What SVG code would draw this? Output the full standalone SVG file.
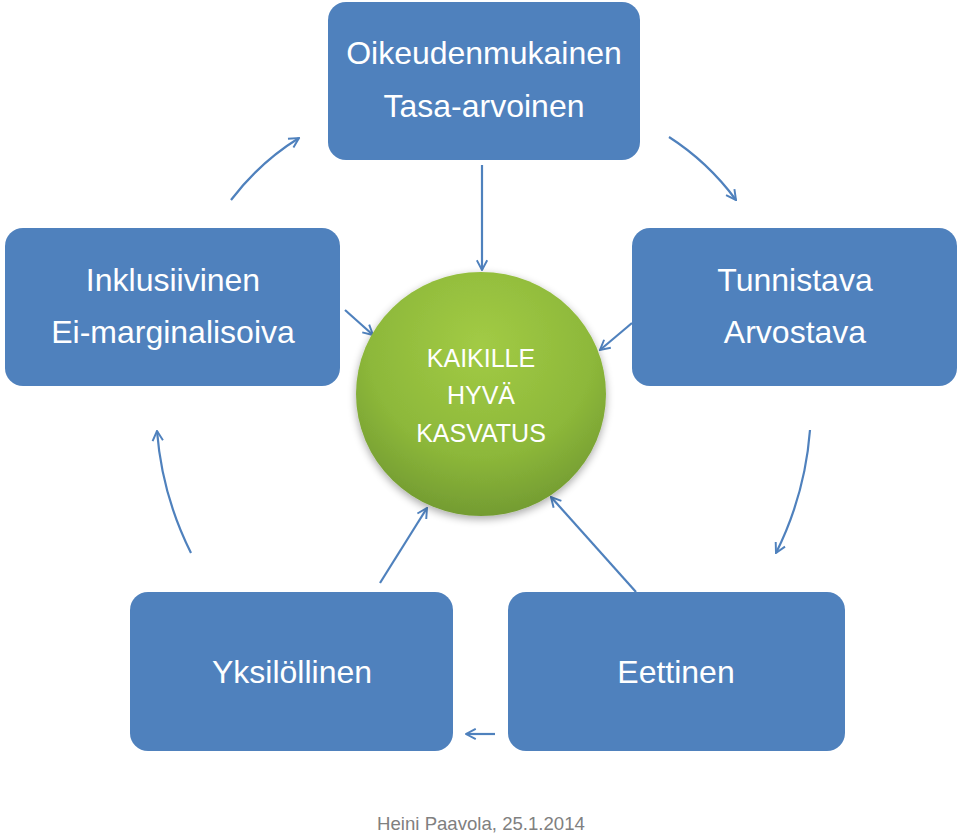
<svg xmlns="http://www.w3.org/2000/svg" width="960" height="834" viewBox="0 0 960 834">
<style>
.box{fill:#4F81BD;}
.t{font-family:"Liberation Sans",Arial,sans-serif;font-size:32px;fill:#ffffff;text-anchor:middle;}
.c{font-family:"Liberation Sans",Arial,sans-serif;font-size:25px;fill:#ffffff;text-anchor:middle;}
.conn{fill:none;stroke:#4F81BD;stroke-width:2.2;marker-end:url(#ah);}
.foot{font-family:"Liberation Sans",Arial,sans-serif;font-size:18.6px;fill:#808080;text-anchor:middle;}
</style>
<defs>
<marker id="ah" viewBox="0 0 10 10" refX="9" refY="5" markerWidth="13" markerHeight="13" markerUnits="userSpaceOnUse" orient="auto">
<path d="M1.5,1 L9,5 L1.5,9" fill="none" stroke="#4F81BD" stroke-width="1.5"/>
</marker>
<radialGradient id="g" cx="0.5" cy="0.3" r="0.75">
<stop offset="0" stop-color="#A2CB45"/>
<stop offset="0.6" stop-color="#8DB83A"/>
<stop offset="1" stop-color="#6E9630"/>
</radialGradient>
<filter id="sh" x="-20%" y="-20%" width="140%" height="140%">
<feGaussianBlur in="SourceAlpha" stdDeviation="4"/>
<feOffset dx="0" dy="3"/>
<feComponentTransfer><feFuncA type="linear" slope="0.35"/></feComponentTransfer>
<feMerge><feMergeNode/><feMergeNode in="SourceGraphic"/></feMerge>
</filter>
</defs>
<rect width="960" height="834" fill="#ffffff"/>
<g id="connectors">
<line class="conn" x1="482" y1="165" x2="482" y2="270"/>
<line class="conn" x1="345" y1="310" x2="373" y2="335"/>
<line class="conn" x1="632" y1="323" x2="600" y2="350"/>
<line class="conn" x1="380" y1="583" x2="427" y2="508"/>
<line class="conn" x1="636" y1="592" x2="551" y2="497"/>
<path class="conn" d="M191,553 Q162,495 157,431"/>
<path class="conn" d="M231,200 Q260,162 299,138"/>
<path class="conn" d="M669,137 Q708,162 736,200"/>
<path class="conn" d="M810,430 Q805,495 776,553"/>
<line class="conn" x1="495" y1="734" x2="466" y2="734"/>
</g>
<g id="node-top">
<rect class="box" x="328" y="2" width="312" height="158" rx="18"/>
<text class="t" x="484" y="64">Oikeudenmukainen</text>
<text class="t" x="484" y="117">Tasa-arvoinen</text>
</g>
<g id="node-left">
<rect class="box" x="5" y="228" width="335" height="158" rx="18"/>
<text class="t" x="173" y="291">Inklusiivinen</text>
<text class="t" x="173" y="343">Ei-marginalisoiva</text>
</g>
<g id="node-right">
<rect class="box" x="632" y="228" width="325" height="158" rx="18"/>
<text class="t" x="795" y="291">Tunnistava</text>
<text class="t" x="795" y="343">Arvostava</text>
</g>
<g id="node-bottom-left">
<rect class="box" x="130" y="592" width="323" height="159" rx="18"/>
<text class="t" x="292" y="683">Yksilöllinen</text>
</g>
<g id="node-bottom-right">
<rect class="box" x="508" y="592" width="337" height="159" rx="18"/>
<text class="t" x="676" y="683">Eettinen</text>
</g>
<g id="node-center">
<ellipse cx="481" cy="394" rx="125" ry="122" fill="url(#g)" filter="url(#sh)"/>
<text class="c" x="481" y="367">KAIKILLE</text>
<text class="c" x="481" y="404">HYVÄ</text>
<text class="c" x="481" y="442">KASVATUS</text>
</g>
<text class="foot" x="481" y="830">Heini Paavola, 25.1.2014</text>
</svg>
